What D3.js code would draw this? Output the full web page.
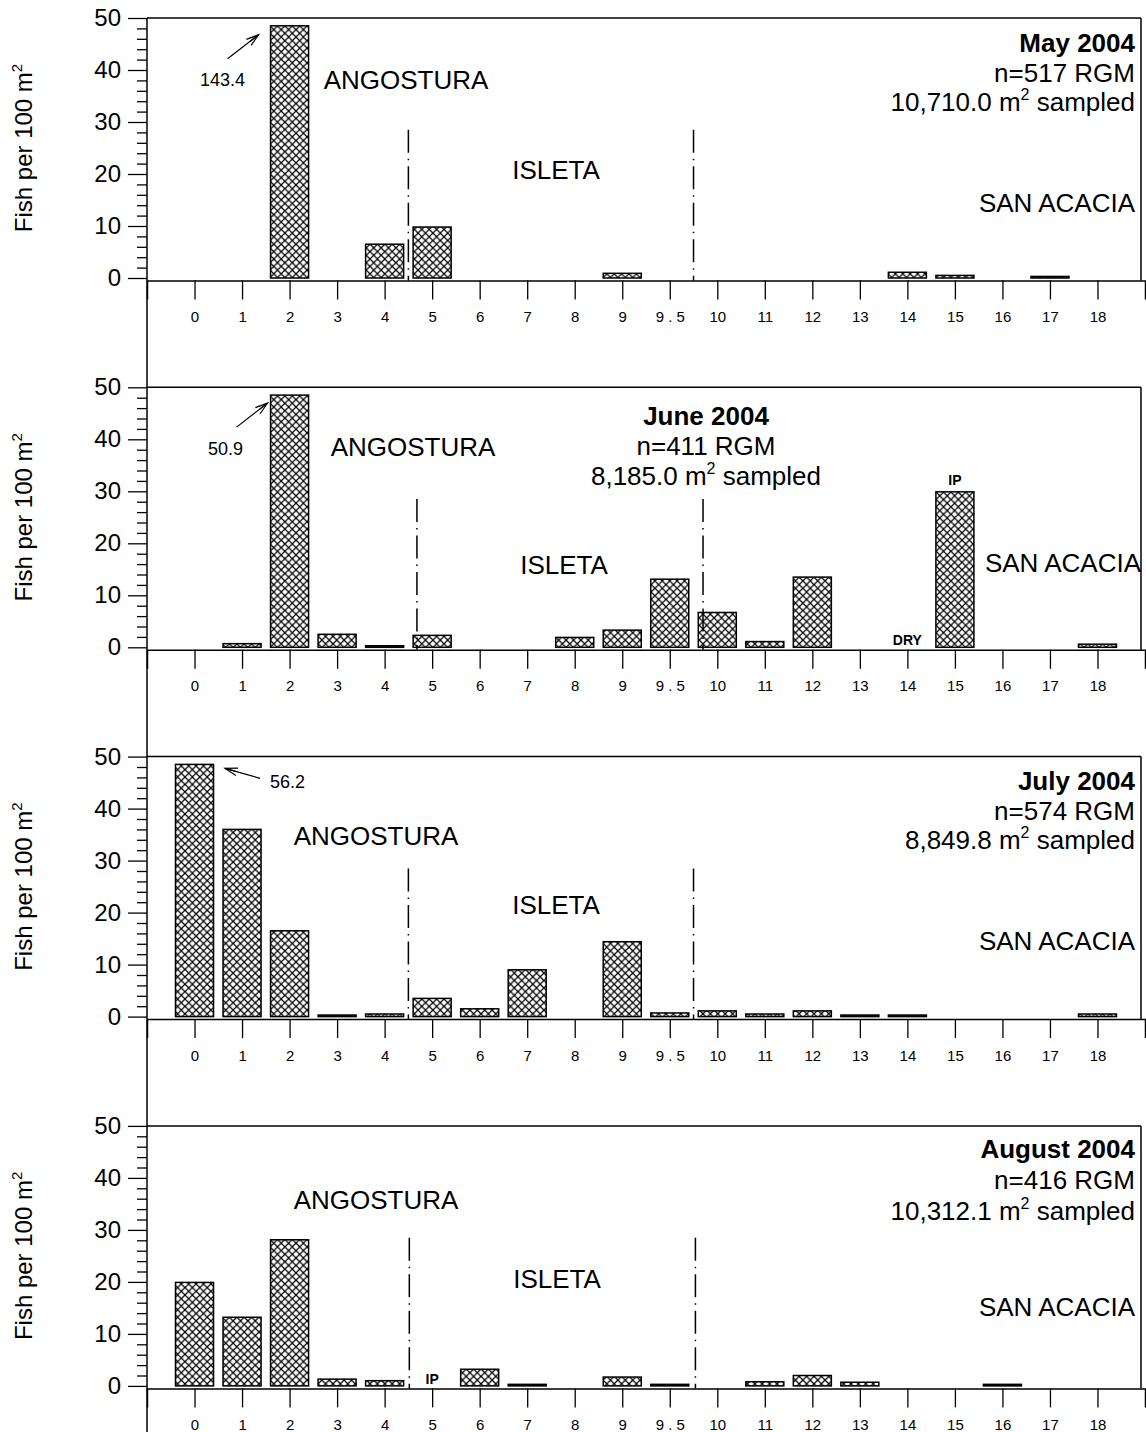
<!DOCTYPE html>
<html><head><meta charset="utf-8">
<script src="https://cdn.jsdelivr.net/npm/d3@7"></script>
<style>
body{margin:0;background:#fff}
text{font-family:"Liberation Sans",Arial,sans-serif;fill:#000}
</style>
</head><body>
<svg id="c" width="1146" height="1432"></svg>
<script>
// ---------- DATA ----------
const categories = ["0","1","2","3","4","5","6","7","8","9","9.5","10","11","12","13","14","15","16","17","18"];
const tickLabels = ["0","1","2","3","4","5","6","7","8","9","9 . 5","10","11","12","13","14","15","16","17","18"];
const yTicksMajor = [0,10,20,30,40,50];
const months = ["May 2004","June 2004","July 2004","August 2004"];
const sampleSizes = ["n=517 RGM","n=411 RGM","n=574 RGM","n=416 RGM"];
const areasSampled = ["10,710.0","8,185.0","8,849.8","10,312.1"];
const reaches = ["ANGOSTURA","ISLETA","SAN ACACIA"];
const may2004    = [null,null,143.4,null,6.5,9.8,null,null,null,0.9, null, null,null,null,null, 1.1,0.5,null,0.3,null];
const june2004   = [null,0.7,50.9,2.5,0.3,2.3,null,null,1.9,3.3, 13.1, 6.7,1.1,13.5,null, null,29.9,null,null,0.6];
const july2004   = [56.2,36.0,16.5,0.3,0.5,3.5,1.5,9.0,null,14.4, 0.7, 1.1,0.5,1.1,0.3, 0.3,null,null,null,0.5];
const august2004 = [19.9,13.2,28.1,1.3,1.0,null,3.2,0.3,null,1.7, 0.3, null,0.8,2.0,0.7, null,null,0.3,null,null];
const series = [may2004, june2004, july2004, august2004];
// reach boundaries (fractional category index)
const boundaries = [[4.5,10.5],[4.68,10.7],[4.5,10.5],[4.52,10.54]];
// site notes
const siteNotes = [[],[{cat:"14",text:"DRY",onTop:false},{cat:"15",text:"IP",onTop:true}],[],[{cat:"5",text:"IP",onTop:false}]];
const yMax = 50, clipValue = 48.5;

// ---------- LAYOUT ----------
const svg = d3.select("#c");
const xLeft = 147, xRight = 1145, frameRight = 1141;
const panelTop0 = 18, panelStep = 369.3, plotH = 260;
const FONT_BIG = 26, FONT_TICK = 24, FONT_X = 15, FONT_NOTE = 18;

const defs = svg.append("defs");
const P = 7.4;
const pat = defs.append("pattern").attr("id","hatch").attr("patternUnits","userSpaceOnUse")
  .attr("width",P).attr("height",P);
pat.append("rect").attr("width",P).attr("height",P).attr("fill","#fff");
pat.append("path").attr("d",`M-1,-1 L${P+1},${P+1} M${P+1},-1 L-1,${P+1}`).attr("stroke","#000").attr("stroke-width",1.25);

const x = d3.scalePoint().domain(categories).range([xLeft,xRight]).padding(1);
const step = x.step(), bw = step*0.8;
const xi = d3.scaleLinear().domain([0,categories.length-1]).range([x(categories[0]), x(categories[categories.length-1])]);

svg.append("line").attr("x1",xLeft).attr("x2",xLeft).attr("y1",panelTop0).attr("y2",1432)
  .attr("stroke","#000").attr("stroke-width",1.5);

const regionPos = [
  {ang:[406,89], isl:[556,179], san:[1135,212]},
  {ang:[413,456], isl:[564,574], san:[1141,572]},
  {ang:[376,845], isl:[556,914], san:[1135,950]},
  {ang:[376,1209], isl:[557,1288], san:[1135,1316]}
];
const titlePos = [
  {x:1135, y:[52,82,111], anchor:"end"},
  {x:706, y:[425,455,485], anchor:"middle"},
  {x:1135, y:[790,820,849], anchor:"end"},
  {x:1135, y:[1158,1189,1220], anchor:"end"}
];
const clipArrows = [
  {side:"left", tip:[-12,9], tail:[-43,33], text:[-48,60], anchor:"middle"},
  {side:"left", tip:[-3,8], tail:[-34,32], text:[-45,60], anchor:"middle"},
  {side:"right", tip:[11.5,4], tail:[46.5,14], text:[56.5,23.5], anchor:"start"},
  null
];

function arrow(g,x1,y1,x2,y2){
  g.append("line").attr("x1",x1).attr("y1",y1).attr("x2",x2).attr("y2",y2).attr("stroke","#000").attr("stroke-width",1.2);
  const a = Math.atan2(y2-y1,x2-x1), L=13;
  const p = [[x2-L*Math.cos(a-0.3), y2-L*Math.sin(a-0.3)],[x2,y2],[x2-L*Math.cos(a+0.3), y2-L*Math.sin(a+0.3)]];
  g.append("path").attr("d","M"+p[0]+"L"+p[1]+"L"+p[2]).attr("fill","none").attr("stroke","#000").attr("stroke-width",1.2);
  g.append("line").attr("x1",x2-L*0.8*Math.cos(a)).attr("y1",y2-L*0.8*Math.sin(a)).attr("x2",x2).attr("y2",y2).attr("stroke","#000").attr("stroke-width",1.2);
}

series.forEach((vals,p)=>{
  const top = panelTop0 + p*panelStep;
  const y = d3.scaleLinear().domain([0,yMax]).range([top+plotH, top]);
  const axisY = y(0)+2.5;
  const g = svg.append("g");

  g.append("line").attr("x1",xLeft).attr("x2",frameRight).attr("y1",y(yMax)).attr("y2",y(yMax)).attr("stroke","#000").attr("stroke-width",1.5);
  g.append("line").attr("x1",frameRight).attr("x2",frameRight).attr("y1",y(yMax)).attr("y2",axisY).attr("stroke","#000").attr("stroke-width",1.5);

  const minor = d3.range(0,yMax+1,2).filter(v=>v%10!==0);
  const gm = g.append("g").attr("transform",`translate(${xLeft},0)`)
    .call(d3.axisLeft(y).tickValues(minor).tickSize(10).tickFormat(""));
  gm.select(".domain").remove();
  const gM = g.append("g").attr("transform",`translate(${xLeft},0)`)
    .call(d3.axisLeft(y).tickValues(yTicksMajor).tickSize(19).tickPadding(7));
  gM.select(".domain").remove();
  g.selectAll(".tick line").attr("stroke","#000").attr("stroke-width",1.3);
  gM.selectAll("text").attr("font-size",FONT_TICK).attr("font-family",null);

  const cy = (y(0)+y(yMax))/2;
  const yt = g.append("text").attr("transform",`translate(32,${cy}) rotate(-90)`).attr("text-anchor","middle").attr("font-size",24);
  yt.append("tspan").text("Fish per 100 m");
  yt.append("tspan").attr("font-size",15).attr("dy",-10).text("2");

  const gx = g.append("g").attr("transform",`translate(0,${axisY})`)
    .call(d3.axisBottom(x).tickSize(19).tickSizeOuter(19).tickPadding(12).tickFormat((d,i)=>tickLabels[i]));
  gx.select(".domain").attr("stroke","#000").attr("stroke-width",1.5);
  gx.selectAll(".tick line").attr("stroke","#000").attr("stroke-width",1.3);
  gx.selectAll("text").attr("font-size",FONT_X).attr("font-family",null);

  const data = categories.map((c,i)=>({c, v:vals[i]})).filter(d=>d.v!==null);
  g.selectAll("rect.bar").data(data).enter().append("rect").attr("class","bar")
    .attr("x",d=>x(d.c)-bw/2).attr("width",bw)
    .attr("y",d=>y(Math.min(d.v,clipValue)))
    .attr("height",d=>Math.max(0.5, y(0)-y(Math.min(d.v,clipValue))))
    .attr("fill","url(#hatch)").attr("stroke","#000").attr("stroke-width",1.5);

  data.filter(d=>d.v>yMax).forEach(d=>{
    const cfg = clipArrows[p]; if(!cfg) return;
    const bx = cfg.side==="left" ? x(d.c)-bw/2 : x(d.c)+bw/2, by = y(clipValue);
    arrow(g, bx+cfg.tail[0], by+cfg.tail[1], bx+cfg.tip[0], by+cfg.tip[1]);
    g.append("text").attr("x",bx+cfg.text[0]).attr("y",by+cfg.text[1]).attr("text-anchor",cfg.anchor)
      .attr("font-size",FONT_NOTE).text(d.v.toFixed(1));
  });

  boundaries[p].forEach(b=>{
    g.append("line").attr("x1",xi(b)).attr("x2",xi(b)).attr("y1",y(28.5)).attr("y2",axisY)
      .attr("stroke","#000").attr("stroke-width",1.5).attr("stroke-dasharray","23,6,1.5,6");
  });

  siteNotes[p].forEach(n=>{
    const i = categories.indexOf(n.cat);
    const ty = n.onTop ? y(vals[i]) - 7 : y(0) - 2;
    g.append("text").attr("x",x(n.cat)).attr("y",ty).attr("text-anchor","middle")
      .attr("font-size",14).attr("font-weight","bold").text(n.text);
  });

  const rp = regionPos[p];
  g.append("text").attr("x",rp.ang[0]).attr("y",rp.ang[1]).attr("text-anchor","middle").attr("font-size",FONT_BIG).text(reaches[0]);
  g.append("text").attr("x",rp.isl[0]).attr("y",rp.isl[1]).attr("text-anchor","middle").attr("font-size",FONT_BIG).text(reaches[1]);
  g.append("text").attr("x",rp.san[0]).attr("y",rp.san[1]).attr("text-anchor","end").attr("font-size",FONT_BIG).text(reaches[2]);

  const tp = titlePos[p];
  g.append("text").attr("x",tp.x).attr("y",tp.y[0]).attr("text-anchor",tp.anchor).attr("font-size",FONT_BIG).attr("font-weight","bold").text(months[p]);
  g.append("text").attr("x",tp.x).attr("y",tp.y[1]).attr("text-anchor",tp.anchor).attr("font-size",FONT_BIG).text(sampleSizes[p]);
  const t3 = g.append("text").attr("x",tp.x).attr("y",tp.y[2]).attr("text-anchor",tp.anchor).attr("font-size",FONT_BIG);
  t3.append("tspan").text(areasSampled[p]+" m");
  t3.append("tspan").attr("font-size",16).attr("dy",-11).text("2");
  t3.append("tspan").attr("dy",11).text(" sampled");
});
</script>
</body></html>
